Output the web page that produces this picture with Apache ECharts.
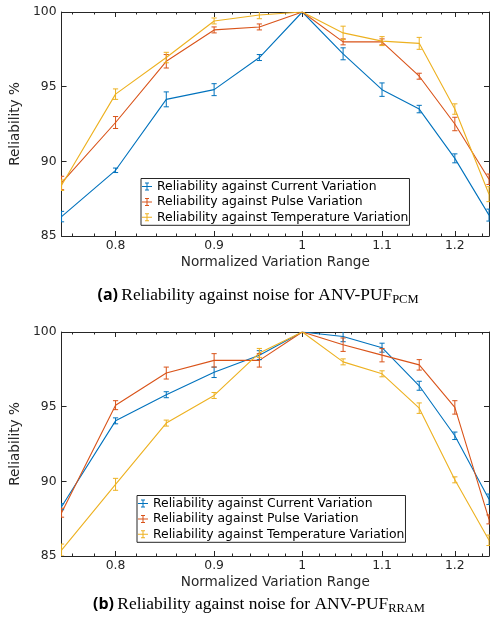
<!DOCTYPE html>
<html>
<head>
<meta charset="utf-8">
<script src="https://cdn.jsdelivr.net/npm/echarts@6/dist/echarts.min.js"></script>
<style>html,body{margin:0;padding:0;background:#fff}#c{width:491px;height:625px}</style>
</head>
<body>
<div id="c"></div>
<script>
// ---------- data ----------
const xValues = [0.75, 0.8, 0.85, 0.9, 0.95, 1, 1.05, 1.1, 1.15, 1.2, 1.25];
const xMajorTicks = [0.8, 0.9, 1, 1.1, 1.2];
const xMinorTicks = [0.76, 0.78, 0.82, 0.84, 0.86, 0.88, 0.92, 0.94, 0.96, 0.98, 1.02, 1.04, 1.06, 1.08, 1.12, 1.14, 1.16, 1.18, 1.22, 1.24];
const seriesNames = ['Reliability against Current Variation', 'Reliability against Pulse Variation', 'Reliability against Temperature Variation'];
const colors = ['#0072BD', '#D95319', '#EDB120'];

const pcmCurrent    = [86.3, 89.4, 94.15, 94.8, 96.95, 100, 97.2, 94.8, 93.5, 90.2, 86.4];
const pcmCurrentErr = [0.35, 0.15, 0.5, 0.4, 0.2, 0, 0.4, 0.45, 0.25, 0.3, 0.4];
const pcmPulse      = [88.55, 92.6, 96.7, 98.8, 99.0, 100, 98.0, 98.0, 95.7, 92.5, 88.8];
const pcmPulseErr   = [0.45, 0.4, 0.45, 0.2, 0.2, 0, 0.2, 0.2, 0.2, 0.45, 0.35];
const pcmTemp       = [88.4, 94.5, 96.95, 99.4, 99.8, 100, 98.6, 98.05, 97.9, 93.5, 87.8];
const pcmTempErr    = [0.35, 0.35, 0.35, 0.2, 0.25, 0, 0.45, 0.3, 0.4, 0.35, 0.5];

const rramCurrent    = [88.3, 94.05, 95.8, 97.3, 98.45, 100, 99.7, 98.95, 96.4, 93.05, 88.8];
const rramCurrentErr = [0.2, 0.2, 0.2, 0.35, 0.3, 0, 0.35, 0.3, 0.3, 0.25, 0.35];
const rramPulse      = [87.9, 95.1, 97.25, 98.1, 98.1, 100, 99.15, 98.45, 97.8, 94.95, 87.45];
const rramPulseErr   = [0.3, 0.3, 0.4, 0.45, 0.45, 0, 0.45, 0.45, 0.35, 0.45, 0.3];
const rramTemp       = [85.4, 89.8, 93.9, 95.75, 98.6, 100, 98.0, 97.2, 94.9, 90.1, 86.05];
const rramTempErr    = [0.4, 0.4, 0.2, 0.2, 0.3, 0, 0.2, 0.2, 0.35, 0.2, 0.35];

const panels = [
  { values: [pcmCurrent, pcmPulse, pcmTemp], errs: [pcmCurrentErr, pcmPulseErr, pcmTempErr] },
  { values: [rramCurrent, rramPulse, rramTemp], errs: [rramCurrentErr, rramPulseErr, rramTempErr] }
];

// ---------- chart ----------
const LOG = Math.log10;
const FONT = 'DejaVu Sans';
const AX = '#262626';
const xMin = LOG(xValues[0]), xMax = LOG(xValues[xValues.length - 1]);
const gridTops = [12, 332];

const grids = [], xAxes = [], yAxes = [], series = [], legends = [];
const legendTops = [178.5, 495.5];
const legendLefts = [141, 137];

panels.forEach((p, gi) => {
  grids.push({ left: 51, right: 2, top: gridTops[gi], height: 224 });
  const baseX = { gridIndex: gi, type: 'value', min: xMin, max: xMax, splitLine: { show: false } };
  // bottom major
  xAxes.push(Object.assign({}, baseX, {
    position: 'bottom',
    axisLine: { show: true, onZero: false, lineStyle: { color: AX, width: 1 } },
    axisTick: { show: true, inside: true, length: 5, customValues: xMajorTicks.map(LOG), lineStyle: { color: AX } },
    axisLabel: { show: true, customValues: xMajorTicks.map(LOG), margin: 4, color: AX, fontFamily: FONT, fontSize: 12.4,
      formatter: v => String(+Math.pow(10, v).toFixed(2)) },
    name: 'Normalized Variation Range', nameLocation: 'middle', nameGap: 19,
    nameTextStyle: { color: AX, fontFamily: FONT, fontSize: 13.6 }
  }));
  // bottom minor
  xAxes.push(Object.assign({}, baseX, {
    position: 'bottom', axisLine: { show: false, onZero: false },
    axisTick: { show: true, inside: true, length: 2.5, customValues: xMinorTicks.map(LOG), lineStyle: { color: AX } },
    axisLabel: { show: false }
  }));
  // top major
  xAxes.push(Object.assign({}, baseX, {
    position: 'top',
    axisLine: { show: true, onZero: false, lineStyle: { color: AX, width: 1 } },
    axisTick: { show: true, inside: true, length: 5, customValues: xMajorTicks.map(LOG), lineStyle: { color: AX } },
    axisLabel: { show: false }
  }));
  // top minor
  xAxes.push(Object.assign({}, baseX, {
    position: 'top', axisLine: { show: false, onZero: false },
    axisTick: { show: true, inside: true, length: 2.5, customValues: xMinorTicks.map(LOG), lineStyle: { color: AX } },
    axisLabel: { show: false }
  }));
  const baseY = { gridIndex: gi, type: 'value', min: 85, max: 100, interval: 5, splitLine: { show: false } };
  yAxes.push(Object.assign({}, baseY, {
    position: 'left',
    axisLine: { show: true, onZero: false, lineStyle: { color: AX, width: 1 } },
    axisTick: { show: true, inside: true, length: 5, lineStyle: { color: AX } },
    axisLabel: { margin: 5, color: AX, fontFamily: FONT, fontSize: 12.4 },
    name: 'Reliability %', nameLocation: 'middle', nameGap: 29,
    nameTextStyle: { color: AX, fontFamily: FONT, fontSize: 13.6 }
  }));
  yAxes.push(Object.assign({}, baseY, {
    position: 'right',
    axisLine: { show: true, onZero: false, lineStyle: { color: AX, width: 1 } },
    axisTick: { show: true, inside: true, length: 5, lineStyle: { color: AX } },
    axisLabel: { show: false }
  }));

  const xi = gi * 4, yi = gi * 2;
  p.values.forEach((vals, si) => {
    series.push({
      type: 'line', name: seriesNames[si], xAxisIndex: xi, yAxisIndex: yi,
      data: xValues.map((x, k) => [LOG(x), vals[k]]),
      symbol: 'none', color: colors[si],
      lineStyle: { width: 1.1, color: colors[si] }, z: 3, animation: false
    });
    const col = colors[si];
    series.push({
      type: 'custom', name: 'err' + gi + '-' + si, xAxisIndex: xi, yAxisIndex: yi,
      clip: true, z: 4, animation: false,
      data: xValues.map((x, k) => [LOG(x), vals[k] - p.errs[si][k], vals[k] + p.errs[si][k]]),
      renderItem: (params, api) => {
        const x = api.value(0);
        const a = api.coord([x, api.value(2)]);
        const b = api.coord([x, api.value(1)]);
        const w = 2.6;
        const st = { stroke: col, lineWidth: 1 };
        return { type: 'group', children: [
          { type: 'line', shape: { x1: a[0], y1: a[1], x2: b[0], y2: b[1] }, style: st },
          { type: 'line', shape: { x1: a[0] - w, y1: a[1], x2: a[0] + w, y2: a[1] }, style: st },
          { type: 'line', shape: { x1: b[0] - w, y1: b[1], x2: b[0] + w, y2: b[1] }, style: st }
        ] };
      }
    });
  });

  legends.push({
    orient: 'vertical', left: legendLefts[gi], top: legendTops[gi],
    data: seriesNames,
    icon: 'path://M0,3.5H10V4.5H0Z M4.5,0H5.5V8H4.5Z M3,0H7V1H3Z M3,7H7V8H3Z',
    itemWidth: 10, itemHeight: 8, itemGap: 0.4,
    padding: [0.5, 1, 0.5, 1],
    backgroundColor: '#fff', borderColor: '#262626', borderWidth: 1,
    itemStyle: { borderWidth: 0 },
    textStyle: { color: '#000', fontFamily: FONT, fontSize: 12.4, lineHeight: 15 },
    selectedMode: false
  });
});

const capRich = {
  b: { fontFamily: 'Open Sans', fontWeight: 'bold', fontSize: 16, lineHeight: 22, color: '#000' },
  s: { fontFamily: 'Liberation Serif', fontSize: 17.4, lineHeight: 22, color: '#000' },
  sub: { fontFamily: 'Liberation Serif', fontSize: 12.5, lineHeight: 14, verticalAlign: 'bottom', color: '#000' }
};

const chart = echarts.init(document.getElementById('c'), null, { renderer: 'canvas' });
chart.setOption({
  animation: false,
  backgroundColor: '#fff',
  grid: grids, xAxis: xAxes, yAxis: yAxes, series: series, legend: legends,
  graphic: [
    { type: 'text', x: 258, y: 295, style: { text: '{b|(a)} {s|Reliability against noise for ANV-PUF}{sub|PCM}', rich: capRich, align: 'center', verticalAlign: 'middle' } },
    { type: 'text', x: 259, y: 604, style: { text: '{b|(b)} {s|Reliability against noise for ANV-PUF}{sub|RRAM}', rich: capRich, align: 'center', verticalAlign: 'middle' } }
  ]
});
</script>
</body>
</html>
